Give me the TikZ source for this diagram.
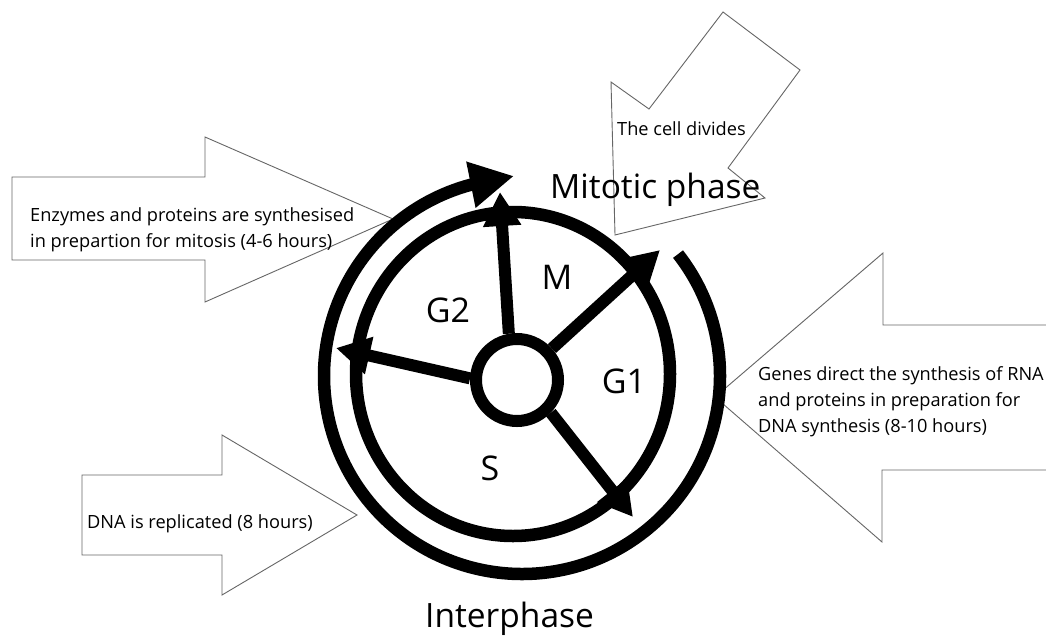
\documentclass[tikz,border=0pt]{standalone}
\usepackage{fontspec}
\setmainfont{Open Sans}
\usetikzlibrary{arrows.meta}
\begin{document}
\begin{tikzpicture}[x=1pt,y=-1pt,
  blockarrow/.style={draw=black!60, fill=white, line width=0.9pt, line join=miter},
  smalltext/.style={font=\fontsize{18.2}{26}\selectfont, inner sep=0pt, anchor=base west, align=left},
  bigtext/.style={font=\fontsize{33.5}{40}\selectfont, inner sep=0pt, anchor=base west},
  phaselabel/.style={font=\fontsize{34}{40}\selectfont, inner sep=0pt},
  ring/.style={line width=12.5pt},
  spoke/.style={line width=12pt, -{Triangle[length=34pt,width=36pt]}},
  hubstyle/.style={circle, draw, fill=white, line width=12pt, minimum size=82pt, inner sep=0pt},
]
\useasboundingbox (0,0) rectangle (1046,635);
\fill[white] (0,0) rectangle (1046,635);

% block arrows
\filldraw[blockarrow] (12,177) -- (205,177) -- (205,137) -- (393,219) -- (205,302) -- (205,260) -- (12,260) -- cycle;
\filldraw[blockarrow] (723,12) -- (800,70) -- (728,168) -- (765,198) -- (615,235) -- (611,82) -- (649,109) -- cycle;
\filldraw[blockarrow] (1046,325) -- (883,325) -- (883,253) -- (715,397) -- (882,542) -- (882,470) -- (1046,470);
\filldraw[blockarrow] (82,475) -- (222,475) -- (222,435) -- (357,515) -- (222,595) -- (222,555) -- (82,555) -- cycle;

% texts of the block arrows (base anchor = baseline of the last line)
\node[smalltext] (tenz) at (30,247) {Enzymes and proteins are synthesised\\in prepartion for mitosis (4-6 hours)};
\node[smalltext] (tcell) at (617,135) {The cell divides};
\node[smalltext] (tgene) at (758,432) {Genes direct the synthesis of RNA\\and proteins in preparation for\\DNA synthesis (8-10 hours)};
\node[smalltext] (tdna) at (87,528) {DNA is replicated (8 hours)};

% rings
\draw[ring] (513,374) ellipse [x radius=157, y radius=162];
\draw[ring, -{Triangle[length=44pt,width=44pt]}] (522,376) ++(-38:198) arc[start angle=-38, end angle=255, radius=198] -- (514,176);

% hub and spokes
\node[hubstyle] (hub) at (517,380) {};
\draw[spoke] (hub.100) -- (500,192);
\draw[spoke] (hub.42) -- (660,250);
\draw[spoke] (hub.-44) -- (633,517);
\draw[spoke] (hub.178) -- (336,348);

% labels
\node[phaselabel] (lg2) at (448,310) {G2};
\node[phaselabel] (lm) at (557,277) {M};
\node[phaselabel] (lg1) at (624,381) {G1};
\node[phaselabel] (ls) at (490,468) {S};
\node[bigtext] (lmit) at (550,198) {Mitotic phase};
\node[bigtext] (lint) at (425,627) {Interphase};
\end{tikzpicture}
\end{document}
